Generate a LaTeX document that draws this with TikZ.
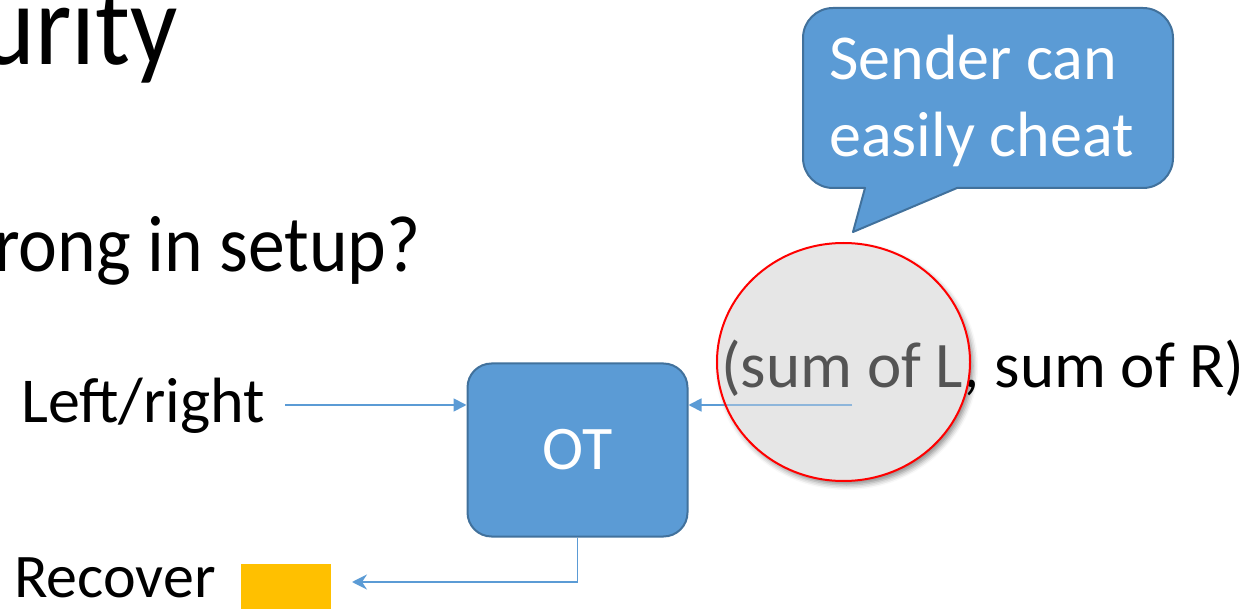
\documentclass[tikz,border=0pt]{standalone}
\usepackage{fontspec}
\setmainfont{Carlito}
\usetikzlibrary{arrows.meta,shadows.blur,calc}
\definecolor{otblue}{HTML}{5B9BD5}
\definecolor{otedge}{HTML}{41719C}
\definecolor{lensgray}{HTML}{E6E6E6}
\definecolor{gold}{HTML}{FFC000}
\definecolor{lensred}{HTML}{FF0000}

\begin{document}
\begin{tikzpicture}[x=1pt,y=-1pt,
  plain/.style={inner sep=0pt, anchor=base west},
  bodytext/.style={plain, font=\fontsize{64}{76}\selectfont},
  otbox/.style={fill=otblue, draw=otedge, line width=2pt, rounded corners=24pt,
    text=white, font=\fontsize{62}{74}\selectfont, inner sep=0pt},
  conn/.style={draw=otblue, line width=1.8pt, -{Triangle[length=13pt,width=13pt]}},
  backconn/.style={draw=otblue, line width=1.8pt, -{Stealth[length=15pt,width=15pt,inset=5pt]}},
  bubble/.style={fill=otblue, draw=otedge, line width=2pt, line join=round},
  bubbletext/.style={plain, text=white, font=\fontsize{64}{76}\selectfont},
  lens/.style={x radius=126.5, y radius=119},
]
\useasboundingbox (0,0) rectangle (1243,609);

% slide title and question (cut by the page edge)
\node[inner sep=0pt, anchor=base east,
  font=\fontsize{116}{140}\selectfont\addfontfeature{FakeStretch=0.9}] (title) at (178,65) {urity};
\node[inner sep=0pt, anchor=base east,
  font=\fontsize{80}{96}\selectfont\addfontfeature{FakeStretch=0.92}] (question) at (421,272) {rong in setup?};

% magnifier lens, base layer with shadow
\coordinate (lens) at (843.5,362);
\fill[lensgray, blur shadow={shadow xshift=3pt, shadow yshift=-4pt, shadow blur radius=5pt, shadow opacity=45}]
  (lens) ellipse [lens];

% inputs and outputs
\node[bodytext] (lr) at (21,423) {Left/right};
\node[plain, font=\fontsize{62}{74}\selectfont] (rec) at (14,597) {Recover};
\node[fill=gold, minimum width=90pt, minimum height=50pt, inner sep=0pt, anchor=north west] (ybox) at (241,564) {};
\node[plain, font=\fontsize{65}{78}\selectfont] (sum) at (721,388) {(sum of L, sum of R)};

% OT functionality
\node[otbox, minimum width=220pt, minimum height=173pt] (ot) at (577.5,450) {OT};

\coordinate (otl) at ([yshift=45pt]ot.west);
\coordinate (otr) at ([yshift=45pt]ot.east);
\path (lr.east) ++(20,0) coordinate (lrtail);
\path (lens) ++(8.5,0) coordinate (lenstail);
\coordinate (recv) at (352,582);

\draw[conn] (lrtail |- otl) -- (otl);
\draw[conn] (lenstail |- otr) -- (otr);
\draw[backconn] (ot.south) |- (recv);

% lens glass over the text, then its rim
\fill[lensgray, fill opacity=0.37] (lens) ellipse [lens];
\draw[lensred, line width=2pt] (lens) ellipse [lens];

% speech bubble
\path[bubble] (865,188) -- (853,232) -- (957,188) -- (1143,188)
  .. controls (1159.6,188) and (1173,174.6) .. (1173,158) -- (1173,38)
  .. controls (1173,21.4) and (1159.6,8) .. (1143,8) -- (833,8)
  .. controls (816.4,8) and (803,21.4) .. (803,38) -- (803,158)
  .. controls (803,174.6) and (816.4,188) .. (833,188) -- cycle;
\node[bubbletext] (cheat1) at (829,80) {Sender can};
\node[bubbletext] (cheat2) at (829,157) {easily cheat};
\end{tikzpicture}
\end{document}
